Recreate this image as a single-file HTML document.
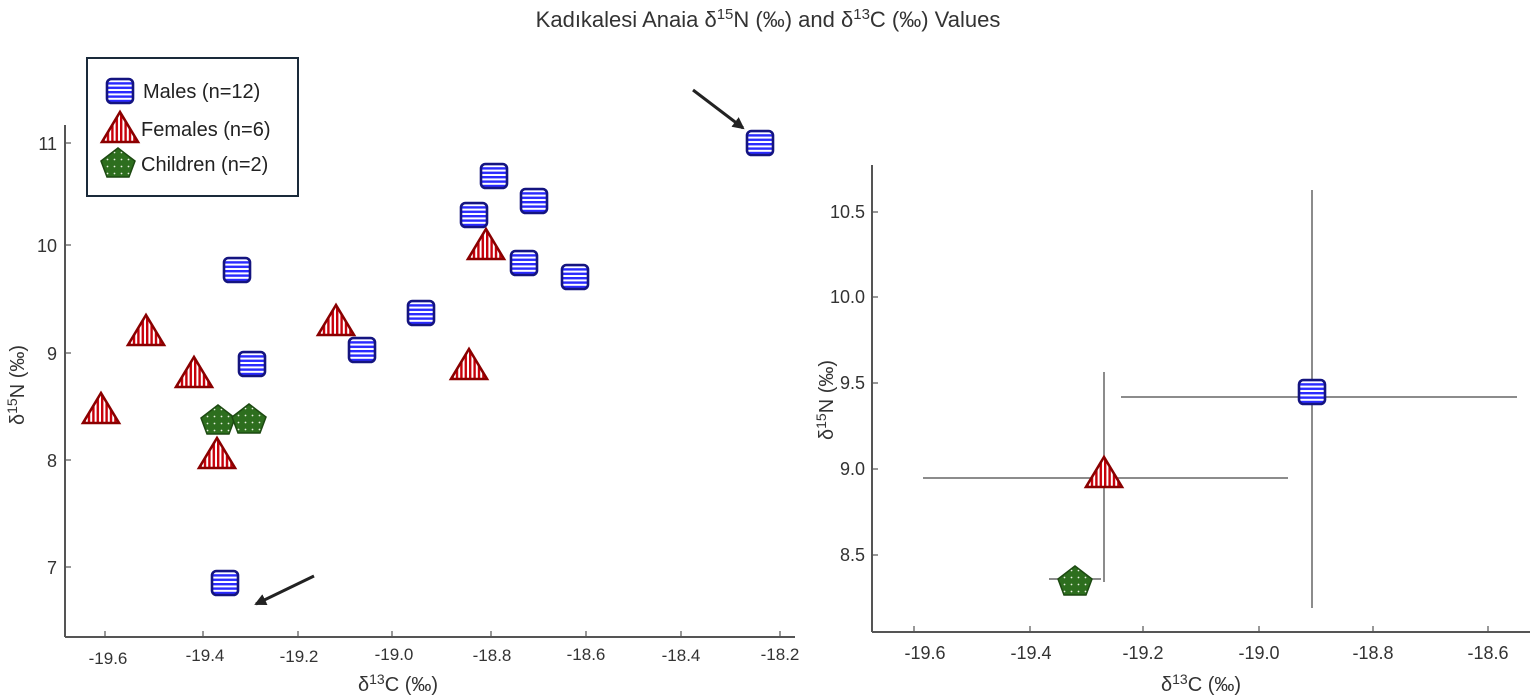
<!DOCTYPE html>
<html><head><meta charset="utf-8"><style>
html,body{margin:0;padding:0;background:#fff;}
svg{display:block;font-family:"Liberation Sans",sans-serif;}
</style></head><body>
<svg width="1535" height="696" viewBox="0 0 1535 696" xmlns="http://www.w3.org/2000/svg">
<defs>
<pattern id="hs" width="5" height="4.4" patternUnits="userSpaceOnUse"><rect width="5" height="4.4" fill="#fff"/><rect width="5" height="2.4" fill="#2a2aff"/></pattern>
<pattern id="vs" width="4.4" height="5" patternUnits="userSpaceOnUse"><rect width="4.4" height="5" fill="#fff"/><rect width="2.4" height="5" fill="#c8000a"/></pattern>
<pattern id="dt" width="7" height="7" patternUnits="userSpaceOnUse"><rect width="7" height="7" fill="#2d6e1e"/><circle cx="3.5" cy="3.5" r="0.9" fill="#e8f0e0"/></pattern>
<g id="M"><rect x="-13" y="-12" width="26" height="24" rx="4.5" fill="url(#hs)" stroke="#141480" stroke-width="2.6"/></g>
<g id="F"><polygon points="0,-17 18,13 -18,13" fill="url(#vs)" stroke="#8a0000" stroke-width="2.6"/></g>
<g id="C"><polygon points="0,-15 17,-2 11,14 -11,14 -17,-2" fill="url(#dt)" stroke="#1d4a12" stroke-width="1.5"/></g>
<marker id="ah" markerWidth="12" markerHeight="12" refX="10" refY="6" orient="auto" markerUnits="userSpaceOnUse"><path d="M0,0 L12,6 L0,12 z" fill="#222"/></marker>
</defs>
<text x="768" y="27" text-anchor="middle" font-size="22" fill="#333">Kadıkalesi   Anaia  δ<tspan dy="-8" font-size="15">15</tspan><tspan dy="8">N (‰) and  δ</tspan><tspan dy="-8" font-size="15">13</tspan><tspan dy="8">C (‰) Values</tspan></text>

<!-- Left chart axes -->
<g stroke="#555" stroke-width="2" fill="none">
<line x1="65" y1="125" x2="65" y2="637"/>
<line x1="65" y1="637" x2="795" y2="637"/>
</g>
<g stroke="#555" stroke-width="1.2">
<line x1="65" y1="143" x2="71" y2="143"/><line x1="65" y1="245" x2="71" y2="245"/><line x1="65" y1="353" x2="71" y2="353"/><line x1="65" y1="460" x2="71" y2="460"/><line x1="65" y1="567" x2="71" y2="567"/>
<line x1="105" y1="637" x2="105" y2="631"/><line x1="203" y1="637" x2="203" y2="631"/><line x1="298" y1="637" x2="298" y2="631"/><line x1="392" y1="637" x2="392" y2="631"/><line x1="491" y1="637" x2="491" y2="631"/><line x1="586" y1="637" x2="586" y2="631"/><line x1="681" y1="637" x2="681" y2="631"/><line x1="780" y1="637" x2="780" y2="631"/>
</g>
<g font-size="18" fill="#333" text-anchor="end">
<text x="57" y="150">11</text><text x="57" y="252">10</text><text x="57" y="360">9</text><text x="57" y="467">8</text><text x="57" y="574">7</text>
</g>
<g font-size="17" fill="#333" text-anchor="middle">
<text x="108" y="664">-19.6</text><text x="205" y="661">-19.4</text><text x="299" y="662">-19.2</text><text x="394" y="660">-19.0</text><text x="492" y="661">-18.8</text><text x="586" y="660">-18.6</text><text x="681" y="661">-18.4</text><text x="780" y="660">-18.2</text>
</g>
<text x="398" y="691" text-anchor="middle" font-size="20" fill="#333">δ<tspan dy="-7" font-size="14">13</tspan><tspan dy="7">C (‰)</tspan></text>
<text transform="translate(24,385) rotate(-90)" text-anchor="middle" font-size="20" fill="#333">δ<tspan dy="-7" font-size="14">15</tspan><tspan dy="7">N (‰)</tspan></text>

<!-- legend -->
<rect x="87" y="58" width="211" height="138" fill="#fff" stroke="#1a2a3a" stroke-width="2"/>
<use href="#M" transform="translate(120,91)"/>
<use href="#F" transform="translate(120,129)"/>
<use href="#C" transform="translate(118,163)"/>
<g font-size="20" fill="#222">
<text x="143" y="98">Males (n=12)</text>
<text x="141" y="136">Females (n=6)</text>
<text x="141" y="171">Children (n=2)</text>
</g>

<!-- left data -->
<use href="#C" transform="translate(218,420)"/>
<use href="#C" transform="translate(249,419)"/>
<use href="#F" transform="translate(486,246)"/>
<use href="#F" transform="translate(146,332)"/>
<use href="#F" transform="translate(336,322)"/>
<use href="#F" transform="translate(194,374)"/>
<use href="#F" transform="translate(469,366)"/>
<use href="#F" transform="translate(101,410)"/>
<use href="#F" transform="translate(217,455)"/>
<use href="#M" transform="translate(760,143)"/>
<use href="#M" transform="translate(494,176)"/>
<use href="#M" transform="translate(534,201)"/>
<use href="#M" transform="translate(474,215)"/>
<use href="#M" transform="translate(524,263)"/>
<use href="#M" transform="translate(575,277)"/>
<use href="#M" transform="translate(237,270)"/>
<use href="#M" transform="translate(421,313)"/>
<use href="#M" transform="translate(362,350)"/>
<use href="#M" transform="translate(252,364)"/>
<use href="#M" transform="translate(225,583)"/>
<line x1="693" y1="90" x2="743" y2="128" stroke="#222" stroke-width="3" marker-end="url(#ah)"/>
<line x1="314" y1="576" x2="256" y2="604" stroke="#222" stroke-width="3" marker-end="url(#ah)"/>

<!-- Right chart axes -->
<g stroke="#555" stroke-width="2" fill="none">
<line x1="872" y1="165" x2="872" y2="632"/>
<line x1="872" y1="632" x2="1530" y2="632"/>
</g>
<g stroke="#555" stroke-width="1.2">
<line x1="872" y1="212" x2="878" y2="212"/><line x1="872" y1="297" x2="878" y2="297"/><line x1="872" y1="383" x2="878" y2="383"/><line x1="872" y1="469" x2="878" y2="469"/><line x1="872" y1="555" x2="878" y2="555"/>
<line x1="914" y1="632" x2="914" y2="626"/><line x1="1030" y1="632" x2="1030" y2="626"/><line x1="1143" y1="632" x2="1143" y2="626"/><line x1="1259" y1="632" x2="1259" y2="626"/><line x1="1373" y1="632" x2="1373" y2="626"/><line x1="1488" y1="632" x2="1488" y2="626"/>
</g>
<g font-size="18" fill="#333" text-anchor="end">
<text x="865" y="218">10.5</text><text x="865" y="303">10.0</text><text x="865" y="389">9.5</text><text x="865" y="475">9.0</text><text x="865" y="561">8.5</text>
</g>
<g font-size="18" fill="#333" text-anchor="middle">
<text x="925" y="659">-19.6</text><text x="1031" y="659">-19.4</text><text x="1143" y="659">-19.2</text><text x="1259" y="659">-19.0</text><text x="1373" y="659">-18.8</text><text x="1488" y="659">-18.6</text>
</g>
<text x="1201" y="691" text-anchor="middle" font-size="20" fill="#333">δ<tspan dy="-7" font-size="14">13</tspan><tspan dy="7">C (‰)</tspan></text>
<text transform="translate(833,400) rotate(-90)" text-anchor="middle" font-size="20" fill="#333">δ<tspan dy="-7" font-size="14">15</tspan><tspan dy="7">N (‰)</tspan></text>

<g stroke="#666" stroke-width="1.5">
<line x1="1121" y1="397" x2="1517" y2="397"/><line x1="1312" y1="190" x2="1312" y2="608"/>
<line x1="923" y1="478" x2="1288" y2="478"/><line x1="1104" y1="372" x2="1104" y2="582"/>
<line x1="1049" y1="579" x2="1101" y2="579"/>
</g>
<use href="#M" transform="translate(1312,392)"/>
<use href="#F" transform="translate(1104,474)"/>
<use href="#C" transform="translate(1075,581)"/>
</svg>
</body></html>
